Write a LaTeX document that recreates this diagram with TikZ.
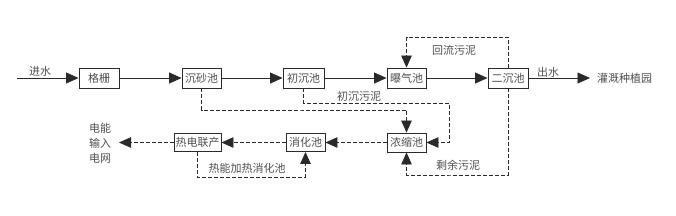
\documentclass[tikz,border=0pt]{standalone}
\usepackage{fontspec}
\setmainfont{Noto Sans CJK SC}
\usetikzlibrary{arrows.meta}
\definecolor{txt}{HTML}{505050}
\definecolor{ln}{HTML}{2A2A2A}
\tikzset{
  box/.style={draw=ln, line width=0.9pt, minimum height=20pt, inner sep=0pt, font=\fontsize{11}{12}\selectfont, text=txt, fill=white},
  lbl/.style={font=\fontsize{11}{12}\selectfont, text=txt, inner sep=0pt},
  flow/.style={draw=ln, line width=0.8pt, -{Triangle[length=12.5pt,width=11pt]}},
  dsh/.style={draw=ln, line width=0.8pt, dash pattern=on 4pt off 2pt},
  dsharr/.style={dsh, -{Triangle[length=12pt,width=10.5pt]}}
}
\begin{document}
\begin{tikzpicture}[x=1pt,y=-1pt]
\useasboundingbox[fill=white] (0,0) rectangle (676,215);
% main boxes
\node[box, minimum width=40pt] (gs) at (99,78) {格栅};
\node[box, minimum width=39pt] (cs) at (201.5,78) {沉砂池};
\node[box, minimum width=41pt] (cc) at (303.5,78) {初沉池};
\node[box, minimum width=39pt] (bq) at (406.5,78) {曝气池};
\node[box, minimum width=40pt] (ec) at (508,78) {二沉池};
\node[box, minimum width=39pt, minimum height=19pt] (ns) at (406.5,142.5) {浓缩池};
\node[box, minimum width=39pt, minimum height=18pt] (xh) at (305.5,142.5) {消化池};
\node[box, minimum width=47pt, minimum height=18pt] (rd) at (197.5,142.5) {热电联产};
% coordinates
\coordinate (in0) at (17,78);
\coordinate (outc) at (590,78);
\coordinate (gridc) at (119,142.5);
\coordinate (rtop) at (457,37);
\coordinate (c1) at (300,110);
\coordinate (c2) at (449,103);
\coordinate (c3) at (450,175);
\coordinate (c4) at (250,177);
% labels
\node[lbl] (jinshui) at (40,71) {进水};
\node[lbl] (chushui) at (548,72) {出水};
\node[lbl, anchor=west] (gg) at (597,78) {灌溉种植园};
\node[lbl] (hl) at (454,50) {回流污泥};
\node[lbl] (cw) at (359,96) {初沉污泥};
\node[lbl] (sy) at (458,165) {剩余污泥};
\node[lbl] (rn) at (247,168) {热能加热消化池};
\node[lbl] (dn1) at (100,128) {电能};
\node[lbl] (dn2) at (100,143) {输入};
\node[lbl] (dn3) at (100,158) {电网};
% main flow
\draw[flow] (in0) -- (gs);
\draw[flow] (gs) -- (cs);
\draw[flow] (cs) -- (cc);
\draw[flow] (cc) -- (bq);
\draw[flow] (bq) -- (ec);
\draw[flow] (ec) -- (outc);
% sludge lines
\draw[dsharr] (ec.north) |- (rtop) -| (bq.north);
\draw[dsharr] (cs.south) |- (c1) -| (ns.north);
\draw[dsharr] (cc.south) |- (c2) |- (ns.east);
\draw[dsharr] (ec.south) |- (c3) -| (ns.south);
\draw[dsharr] (ns.west) -- (xh.east);
\draw[dsharr] (xh.west) -- (rd.east);
\draw[dsharr] (rd.west) -- (gridc);
\draw[dsharr] (rd.south) |- (c4) -| (xh.south);
\end{tikzpicture}
\end{document}
